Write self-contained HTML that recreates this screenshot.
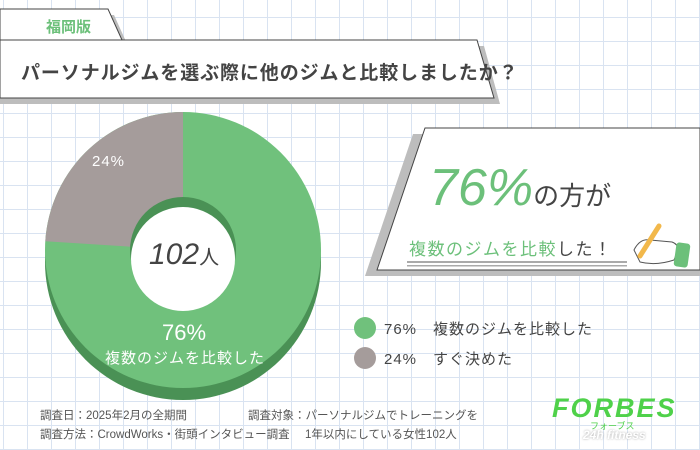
<!DOCTYPE html>
<html><head><meta charset="utf-8"><style>
body{margin:0;width:700px;height:450px;overflow:hidden;position:relative;font-family:"Liberation Sans","Noto Sans CJK JP",sans-serif;
background-color:#fff;
background-image:linear-gradient(to right,#d9e3f1 1px,transparent 1px),linear-gradient(to bottom,#d9e3f1 1px,transparent 1px);
background-size:24px 24px;background-position:3px 17px;}
.a{position:absolute;white-space:nowrap}
</style></head><body>
<svg class="a" style="left:0;top:0" width="700" height="450">
<polygon points="0,15 114,15 128,46 0,46" fill="#bdbdbd"/>
<polygon points="0,9 108,9 122,40 0,40" fill="#fff" stroke="#444" stroke-width="1"/>
<polygon points="0,46 484,46 500,104 0,104" fill="#bdbdbd"/>
<polygon points="0,40 477,40 494,98 0,98" fill="#fff" stroke="#444" stroke-width="1"/>
<polygon points="413,134 700,134 700,276 365,276" fill="#bdbdbd"/>
<polygon points="425,128 700,128 700,270 377,270" fill="#fff" stroke="#444" stroke-width="1"/>
<rect x="407" y="261" width="220" height="2" fill="#aaa"/><rect x="407" y="265" width="220" height="1.5" fill="#aaa"/>
<!-- pencil hand -->
<path d="M634 250 q6 -12 16 -10 l22 2 q6 2 6 8 l-4 10 q-18 6 -34 2z" fill="#fff" stroke="#555" stroke-width="1"/>
<line x1="640" y1="256" x2="659" y2="226" stroke="#f2b84b" stroke-width="5" stroke-linecap="round"/>
<rect x="675" y="243" width="14" height="24" rx="3" fill="#6cc07a" transform="rotate(8 682 255)"/>
<!-- donut -->
<g transform="translate(183,262)"><circle r="138" fill="#4a9155"/></g>
<g transform="translate(183,250)">
<circle r="138" fill="#70c17c"/>
<path d="M0,0 L0,-138 A138,138 0 0 0 -137.7,-8.7 Z" fill="#a59c9b"/>
<circle r="53" cy="0" fill="#4a9155"/>
<circle r="52" cy="9" fill="#fff"/>
</g>
</svg>
<div class="a" style="left:46px;top:16px;font-size:15px;color:#6cc07a;font-weight:bold">福岡版</div>
<div class="a" style="left:21px;top:58px;font-size:19px;color:#444;letter-spacing:0.9px;font-weight:bold">パーソナルジムを選ぶ際に他のジムと比較しましたか？</div>
<div class="a" style="left:92px;top:153px;font-size:15px;color:#fff;letter-spacing:1px">24%</div>
<div class="a" style="left:149px;top:238px;font-size:30px;color:#444;font-style:italic">102<span style="font-size:20px;font-style:normal">人</span></div>
<div class="a" style="left:162px;top:320px;font-size:22px;color:#fff">76%</div>
<div class="a" style="left:105px;top:347px;font-size:15px;color:#fff;letter-spacing:1px">複数のジムを比較した</div>
<div class="a" style="left:429px;top:158px;font-size:52px;color:#6cc07a;font-style:italic">76%<span style="font-size:26px;color:#444;font-style:normal;font-weight:normal">の方が</span></div>
<div class="a" style="left:409px;top:235px;font-size:17px;color:#6cc07a;letter-spacing:1.5px">複数のジムを比較<span style="color:#444">した！</span></div>
<svg class="a" style="left:0;top:0" width="700" height="450"><circle cx="365" cy="328" r="11" fill="#70c17c"/><circle cx="365" cy="358" r="11" fill="#a59c9b"/></svg>
<div class="a" style="left:384px;top:318px;font-size:15px;color:#444;letter-spacing:1px">76%　複数のジムを比較した</div>
<div class="a" style="left:384px;top:348px;font-size:15px;color:#444;letter-spacing:1px">24%　すぐ決めた</div>
<div class="a" style="left:40px;top:407px;font-size:11.5px;color:#555">調査日：2025年2月の全期間</div>
<div class="a" style="left:248px;top:407px;font-size:11.5px;color:#555">調査対象：パーソナルジムでトレーニングを</div>
<div class="a" style="left:40px;top:426px;font-size:11.5px;color:#555">調査方法：CrowdWorks・街頭インタビュー調査</div>
<div class="a" style="left:305px;top:426px;font-size:11.5px;color:#555">1年以内にしている女性102人</div>
<div class="a" style="left:552px;top:393px;font-size:27px;color:#4fd14a;font-weight:bold;font-style:italic;letter-spacing:2px">FORBES</div>
<div class="a" style="left:590px;top:419px;font-size:9px;color:#4fd14a">フォーブス</div>
<div class="a" style="left:583px;top:428px;font-size:12px;color:#fff;font-weight:bold;font-style:italic;text-shadow:0 0 2px #aaa">24h fitness</div>
</body></html>
